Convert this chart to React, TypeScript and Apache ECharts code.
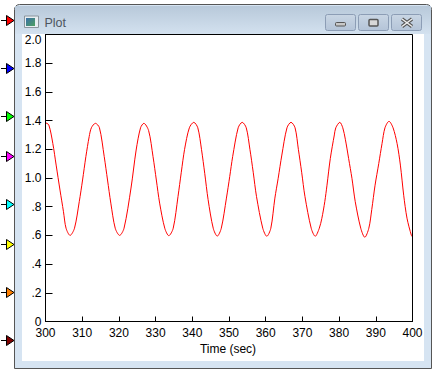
import React, { useEffect, useRef } from "react";
import * as echarts from "echarts";

const times: number[] = [
  300, 300.9, 302, 302.9, 303.95, 304.9, 305.6, 306.7, 307.9, 309.2,
  310.1, 311, 311.9, 312.5, 313.6, 314.7, 316, 316.9, 317.8, 319,
  320.2, 321.4, 323.3, 324.7, 325.9, 326.8, 328.1, 329.3, 330.2, 331.1,
  332.5, 333.6, 334.8, 336.1, 337, 337.9, 339.2, 340.4, 341.5, 342.5,
  343.4, 344.3, 345.7, 346.8, 347.9, 349.3, 350.2, 351, 352.5, 353.6,
  354.7, 355.7, 356.6, 357.5, 359.2, 360.3, 361.4, 362.5, 363.4, 364.4,
  365.8, 366.9, 368, 368.9, 369.8, 370.7, 372.4, 373.5, 374.6, 375.3,
  376.1, 376.7, 377.6, 378.7, 379.1, 380.2, 381, 381.7, 382.6, 383.5,
  384.4, 385.9, 387, 388.1, 388.9, 389.8, 390.8, 391.7, 392.5, 393.6,
  394.7, 395.8, 396.7, 397.6, 398.5, 399.7, 400,
];
const signal: number[] = [
  1.385, 1.37, 1.24, 1.09, 0.916, 0.765, 0.65, 0.6, 0.65, 0.835,
  0.986, 1.149, 1.288, 1.35, 1.381, 1.35, 1.149, 0.986, 0.825, 0.65,
  0.6, 0.65, 0.93, 1.195, 1.35, 1.381, 1.33, 1.149, 0.986, 0.825,
  0.65, 0.598, 0.65, 0.87, 1.04, 1.2, 1.35, 1.388, 1.35, 1.2,
  1.03, 0.85, 0.65, 0.595, 0.65, 0.86, 1.01, 1.149, 1.35, 1.388,
  1.35, 1.2, 1.04, 0.87, 0.65, 0.594, 0.65, 0.86, 0.998, 1.16,
  1.35, 1.388, 1.35, 1.2, 1.04, 0.87, 0.65, 0.594, 0.65, 0.719,
  0.835, 0.95, 1.135, 1.3, 1.35, 1.388, 1.35, 1.27, 1.135, 0.998,
  0.835, 0.65, 0.587, 0.65, 0.78, 0.95, 1.1, 1.24, 1.35, 1.395,
  1.35, 1.24, 1.09, 0.88, 0.72, 0.6, 0.59,
];
const yLabels: Record<string, string> = {
  "0": "0", "0.2": ".2", "0.4": ".4", "0.6": ".6", "0.8": ".8",
  "1": "1.0", "1.2": "1.2", "1.4": "1.4", "1.6": "1.6", "1.8": "1.8", "2": "2.0",
};
const inputColors: string[] = ["#ff0000", "#0000ff", "#00ff00", "#ff00ff", "#00ffff", "#ffff00", "#ff8000", "#800000"];
const inputRows: number[] = [20, 68, 116, 156, 204, 244, 292, 340];
const FONT = "Liberation Sans";

function arrow(color: string, y: number) {
  return [
    { type: "line", shape: { x1: 1, y1: y + 0.5, x2: 6, y2: y + 0.5 }, style: { stroke: "#000", lineWidth: 1 } },
    { type: "polygon", shape: { points: [[6.5, y - 4.5], [14, y + 0.5], [6.5, y + 5.5]] }, style: { fill: color, stroke: "#000", lineWidth: 1 } },
  ];
}

function winButton(x: number, kind: number) {
  const parts: any[] = [
    {
      type: "rect", shape: { x, y: 14.5, width: 30, height: 16, r: 2 },
      style: { fill: new echarts.graphic.LinearGradient(0, 0, 0, 1, [{ offset: 0, color: "#c9d6e4" }, { offset: 1, color: "#b4c4d8" }]), stroke: "#8c9db5", lineWidth: 1 },
    },
  ];
  if (kind === 0) parts.push({ type: "rect", shape: { x: x + 10, y: 22.5, width: 10, height: 3.5, r: 1 }, style: { fill: "#c8c8c8", stroke: "#555", lineWidth: 1 } });
  if (kind === 1) parts.push({ type: "rect", shape: { x: x + 10.5, y: 19.5, width: 9, height: 6.5, r: 1 }, style: { fill: "#d8d8d8", stroke: "#555", lineWidth: 1.5 } });
  if (kind === 2) parts.push(
    { type: "line", shape: { x1: x + 10.5, y1: 19, x2: 20.5 + x, y2: 26.5 }, style: { stroke: "#555", lineWidth: 3.5 } },
    { type: "line", shape: { x1: x + 20.5, y1: 19, x2: 10.5 + x, y2: 26.5 }, style: { stroke: "#555", lineWidth: 3.5 } },
    { type: "line", shape: { x1: x + 10.5, y1: 19, x2: 20.5 + x, y2: 26.5 }, style: { stroke: "#eee", lineWidth: 1.5 } },
    { type: "line", shape: { x1: x + 20.5, y1: 19, x2: 10.5 + x, y2: 26.5 }, style: { stroke: "#eee", lineWidth: 1.5 } },
  );
  return parts;
}

export default function App() {
  const ref = useRef<HTMLDivElement>(null);
  useEffect(() => {
    const chart = echarts.init(ref.current!, undefined, { renderer: "svg" });
    chart.setOption({
      animation: false,
      backgroundColor: "#ffffff",
      grid: { left: 45.5, top: 34.5, width: 367, height: 287, containLabel: false, show: false },
      xAxis: {
        type: "value", min: 300, max: 400, interval: 10,
        name: "Time (sec)", nameLocation: "middle", nameGap: 21,
        nameTextStyle: { fontFamily: FONT, fontSize: 12, color: "#000", padding: [0, 2, 0, 0] },
        axisLine: { lineStyle: { color: "#000", width: 1 } },
        axisTick: { inside: true, length: 5, lineStyle: { color: "#000", width: 1 } },
        axisLabel: { fontFamily: FONT, fontSize: 12, lineHeight: 10, color: "#000", margin: 6, hideOverlap: false },
        splitLine: { show: false },
      },
      yAxis: {
        type: "value", min: 0, max: 2, interval: 0.2,
        axisLine: { lineStyle: { color: "#000", width: 1 } },
        axisTick: { inside: true, length: 7, lineStyle: { color: "#000", width: 1 } },
        axisLabel: {
          fontFamily: FONT, fontSize: 12, lineHeight: 10, color: "#000", margin: 4, hideOverlap: false,
          verticalAlignMaxLabel: "top",
          formatter: (v: number) => yLabels[String(+v.toFixed(1))],
        },
        splitLine: { show: false },
      },
      graphic: [
        {
          type: "group", silent: true, z: -1, zlevel: 0,
          children: [
            { type: "rect", shape: { x: 14.5, y: 4.5, width: 417, height: 364, r: [5, 5, 0, 0] }, style: { fill: "#d6e4f2", stroke: "#555", lineWidth: 1 } },
            {
              type: "rect", shape: { x: 15, y: 6, width: 416, height: 28 },
              style: { fill: new echarts.graphic.LinearGradient(0, 0, 0, 1, [{ offset: 0, color: "#b8c9da" }, { offset: 1, color: "#d3e1ef" }]) },
            },
            { type: "rect", shape: { x: 22, y: 34, width: 402, height: 327 }, style: { fill: "#ffffff" } },
            { type: "rect", shape: { x: 24.5, y: 16, width: 14, height: 11.5 }, style: { fill: "#e8eef2", stroke: "#8a949c", lineWidth: 1 } },
            {
              type: "rect", shape: { x: 26, y: 18, width: 9, height: 8 },
              style: { fill: new echarts.graphic.LinearGradient(0, 0, 1, 1, [{ offset: 0, color: "#3a6fa8" }, { offset: 1, color: "#4da060" }]) },
            },
            { type: "text", x: 44.5, y: 16.5, style: { text: "Plot", fontFamily: "Liberation Sans", fontSize: 12.5, fill: "#4d5560" } },
            ...winButton(325.5, 0),
            ...winButton(358.5, 1),
            ...winButton(391.5, 2),
          ],
        },
        { type: "group", silent: true, children: inputColors.flatMap((c, i) => arrow(c, inputRows[i])) },
        { type: "rect", silent: true, shape: { x: 45.5, y: 34.5, width: 367, height: 287 }, style: { fill: "none", stroke: "#000", lineWidth: 1 }, z: 10 },
      ],
      series: [
        {
          type: "line", showSymbol: false, smooth: 0.3,
          data: times.map((t, i) => [t, signal[i]]),
          lineStyle: { color: "#ff0000", width: 1 },
          clip: true,
        },
      ],
    });
    return () => chart.dispose();
  }, []);
  return <div ref={ref} style={{ position: "absolute", left: 0, top: 0, width: 436, height: 375 }} />;
}
